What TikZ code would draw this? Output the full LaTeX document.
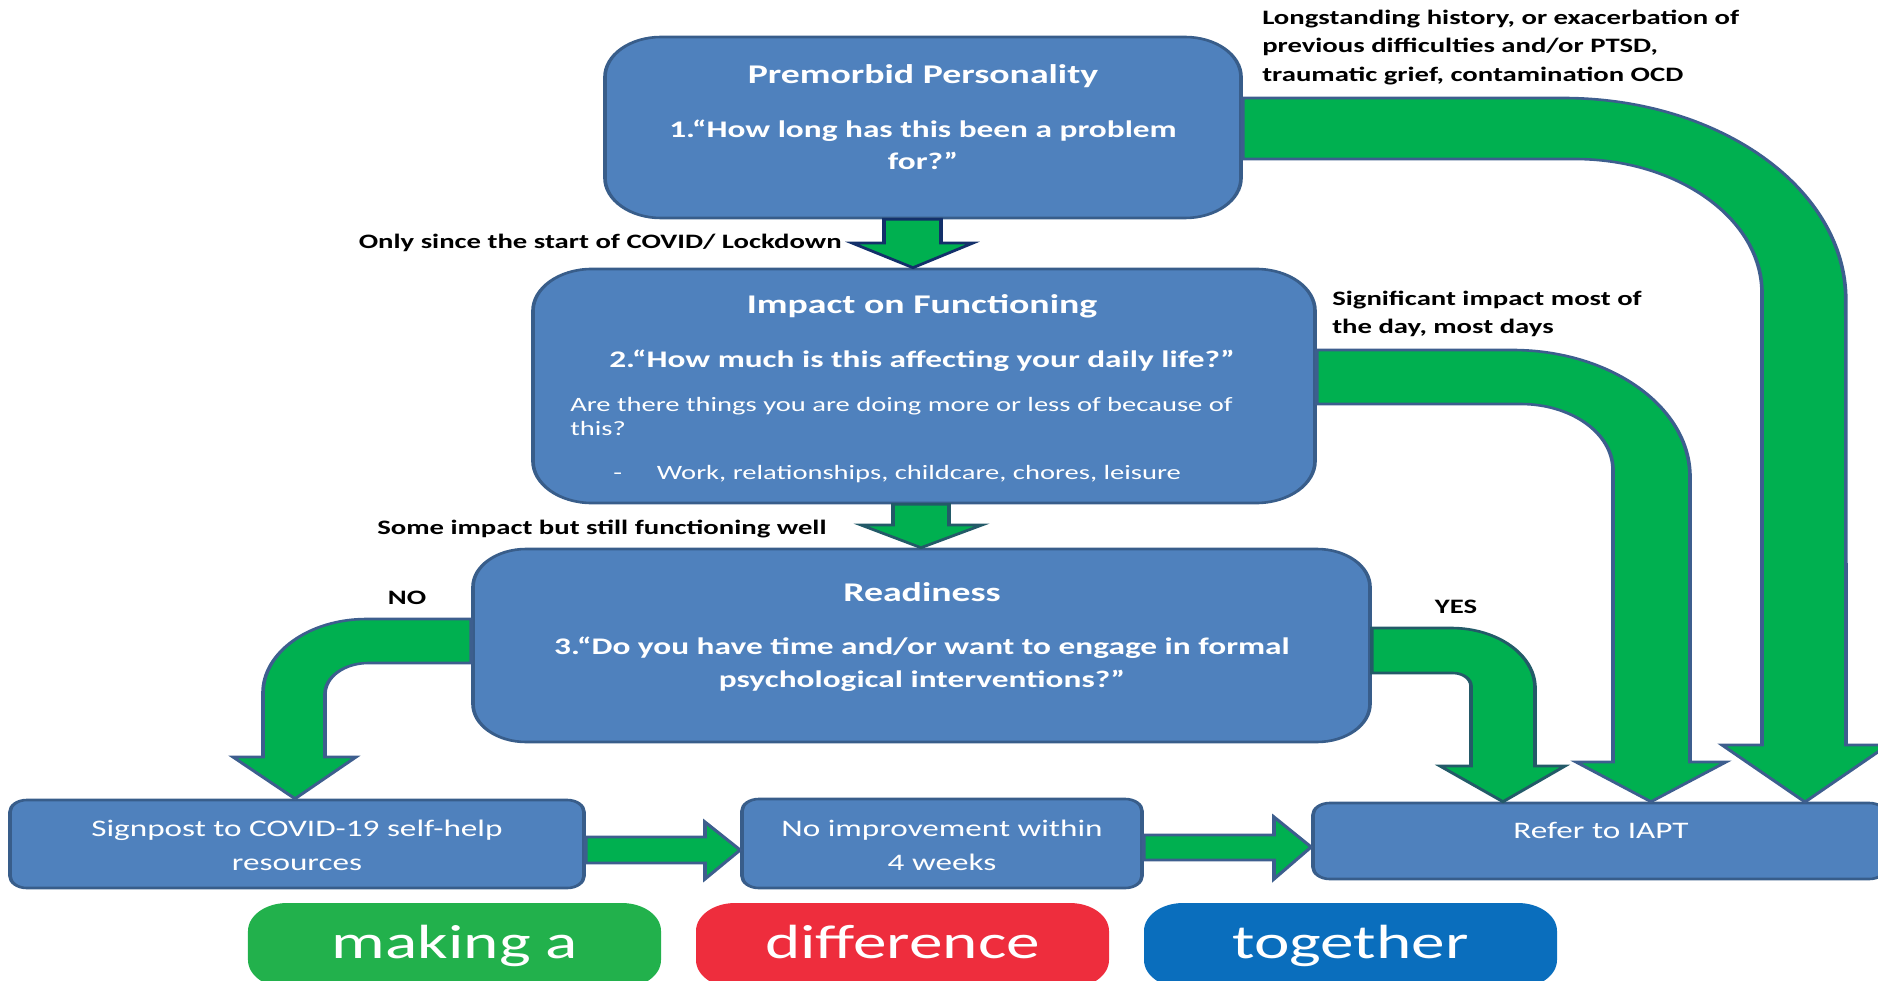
\documentclass[tikz,border=0pt]{standalone}
\usepackage{fontspec}
\setmainfont{Carlito}
\usetikzlibrary{calc}

\definecolor{boxfill}{HTML}{4F81BD}
\definecolor{boxline}{HTML}{385D8A}
\definecolor{flow}{HTML}{00B050}
\definecolor{flowline}{HTML}{3D5E8E}
\definecolor{navyline}{HTML}{13306A}
\definecolor{tealline}{HTML}{235A68}
\definecolor{pillgreen}{HTML}{22B14C}
\definecolor{pillred}{HTML}{EE2D3D}
\definecolor{pillblue}{HTML}{0A6EBD}

\newcommand\setfs[2]{\fontsize{#1}{#2}\selectfont}

\begin{document}
\begin{tikzpicture}[x=1pt,y=-1pt]
\useasboundingbox (0,0) rectangle (1878,981);
\clip (0,0) rectangle (1878,981);
% everything is drawn in a horizontally widened canvas
\begin{scope}[transform canvas={xscale=1.4}, x=0.7142857pt, y=-1pt,
  box/.style={draw=boxline, line width=2.6pt, fill=boxfill, inner sep=0pt},
  lowbox/.style={box, rounded corners=12pt},
  pill/.style={fill=#1, draw=none, inner sep=0pt, rounded corners=28pt},
  title/.style={text=white, inner sep=0pt, font=\bfseries\setfs{27}{33}},
  question/.style={text=white, inner sep=0pt, align=center, font=\bfseries\setfs{23.8}{#1}},
  question/.default=33.5,
  body/.style={text=white, inner sep=0pt, font=\setfs{20.4}{23.3}},
  lowtext/.style={text=white, inner sep=0pt, align=center, font=\setfs{23.7}{34}},
  note/.style={text=black, inner sep=0pt, align=left, font=\bfseries\setfs{20.5}{28.7}},
  slogan/.style={text=white, inner sep=0pt, font=\setfs{48}{56}},
  flowarrow/.style={fill=flow, draw=#1, line width=2.6pt, line join=miter},
  flowarrow/.default=flowline]

% ---------- boxes ----------
\node[box, rounded corners=40pt, minimum width=454.3pt, minimum height=181pt] (premorbid) at (923,127.5) {};
\node[box, rounded corners=42pt, minimum width=558.6pt, minimum height=234pt] (impact) at (924,386) {};
\node[box, rounded corners=38pt, minimum width=640.7pt, minimum height=193pt] (ready) at (921.5,645.5) {};
\node[lowbox, minimum width=410pt, minimum height=88pt] (signpost) at (297,844) {};
\node[lowbox, minimum width=285.7pt, minimum height=89pt] (noimp) at (942,843.5) {};
\node[lowbox, minimum width=409.3pt, minimum height=76pt] (iapt) at (1599.5,841) {};

% ---------- box texts (multi-line nodes sit on their last baseline) ----------
\node[title, anchor=base] (t1) at (923,84) {Premorbid Personality};
\node[question=32, anchor=base] (q1) at (923,170) {1.“How long has this been a problem\\for?”};

\node[title, anchor=base] (t2) at (922,313.5) {Impact on Functioning};
\node[question, anchor=base] (q2) at (922,367.5) {2.“How much is this affecting your daily life?”};
\node[body, anchor=base west, align=left] (b2) at (570,435) {Are there things you are doing more or less of because of\\this?};
\node[body, anchor=base west] (dash) at (613,479.3) {-};
\node[body, anchor=base west] (b3) at (656.7,479.3) {Work, relationships, childcare, chores, leisure};

\node[title, anchor=base] (t3) at (922,601.5) {Readiness};
\node[question, anchor=base] (q3) at (922,687.5) {3.“Do you have time and/or want to engage in formal\\psychological interventions?”};

\node[lowtext, anchor=base] (s1) at (297,870) {Signpost to COVID-19 self-help\\resources};
\node[lowtext, anchor=base] (n1) at (942,870) {No improvement within\\4 weeks};
\node[lowtext, anchor=base] (r1) at (1601,838.3) {Refer to IAPT};

% ---------- branch labels ----------
\node[note, anchor=base west] (lab1) at (1262,81.7) {Longstanding history, or exacerbation of\\previous difficulties and/or PTSD,\\traumatic grief, contamination OCD};
\node[note, anchor=base east] (lab2) at (842,249) {Only since the start of COVID/ Lockdown};
\node[note, anchor=base west] (lab3) at (1332,334) {Significant impact most of\\the day, most days};
\node[note, anchor=base west] (lab4) at (377,534) {Some impact but still functioning well};
\node[note, anchor=base] (lab5) at (407,604) {NO};
\node[note, anchor=base] (lab6) at (1456,613) {YES};

% ---------- straight down arrows ----------
\draw[flowarrow=navyline] (884,0 |- premorbid.south) -- (884,243) -- (852,243) -- (913,0 |- impact.north)
  -- (973,243) -- (941,243) -- (941,0 |- premorbid.south) -- cycle;
\draw[flowarrow=tealline] (893,0 |- impact.south) -- (893,525) -- (861,525) -- (921,0 |- ready.north)
  -- (982,525) -- (949,525) -- (949,0 |- impact.south) -- cycle;

% ---------- bent arrows ----------
% longstanding difficulties
\draw[flowarrow] (premorbid.east |- 0,98) -- (1563,98) arc[start angle=90, end angle=0, radius=202pt]
  -- (1846,745) -- (1888,745) -- (1805,802) -- (1722,745) -- (1762,745) -- (1762,293)
  arc[start angle=0, end angle=90, radius=134pt] -- (premorbid.east |- 0,159) -- cycle;
% significant impact
\draw[flowarrow] (impact.east |- 0,350) -- (1512.2,350) arc[start angle=90, end angle=0, radius=127pt]
  -- (1690,762) -- (1726,762) -- (1651,0 |- iapt.north) -- (1576,762) -- (1613,762) -- (1613,470)
  arc[start angle=0, end angle=90, radius=66pt] -- (impact.east |- 0,404) -- cycle;
% yes
\draw[flowarrow=tealline] (ready.east |- 0,628) -- (1451,628) arc[start angle=90, end angle=0, radius=60pt]
  -- (1535,766) -- (1565,766) -- (1503,0 |- iapt.north) -- (1440,766) -- (1471,766) -- (1471,686)
  arc[start angle=0, end angle=90, radius=13pt] -- (ready.east |- 0,673) -- cycle;
% no
\draw[flowarrow] (ready.west |- 0,619) -- (366.6,619) arc[start angle=90, end angle=180, radius=74pt]
  -- (263,757) -- (233,757) -- (295,0 |- signpost.north) -- (356,757) -- (325,757) -- (325,694)
  arc[start angle=180, end angle=90, radius=31pt] -- (ready.west |- 0,663) -- cycle;

% ---------- bottom row arrows ----------
\draw[flowarrow] (signpost.east |- 0,837) -- (705,837) -- (705,822) -- (noimp.west |- 0,850)
  -- (705,879) -- (705,863) -- (signpost.east |- 0,863) -- cycle;
\draw[flowarrow] (noimp.east |- 0,835) -- (1274,835) -- (1274,817) -- (iapt.west |- 0,847)
  -- (1274,879) -- (1274,860) -- (noimp.east |- 0,860) -- cycle;

% ---------- slogan ----------
\node[pill=pillgreen, minimum width=295pt, minimum height=85pt] (making) at (454.5,945.5) {};
\node[pill=pillred, minimum width=295pt, minimum height=85pt] (difference) at (902.5,945.5) {};
\node[pill=pillblue, minimum width=295pt, minimum height=85pt] (together) at (1350.5,945.5) {};
\node[slogan, anchor=base] at (455,958) {making a};
\node[slogan, anchor=base] at (902.5,958) {difference};
\node[slogan, anchor=base] at (1350.5,958) {together};
\end{scope}
\end{tikzpicture}
\end{document}
